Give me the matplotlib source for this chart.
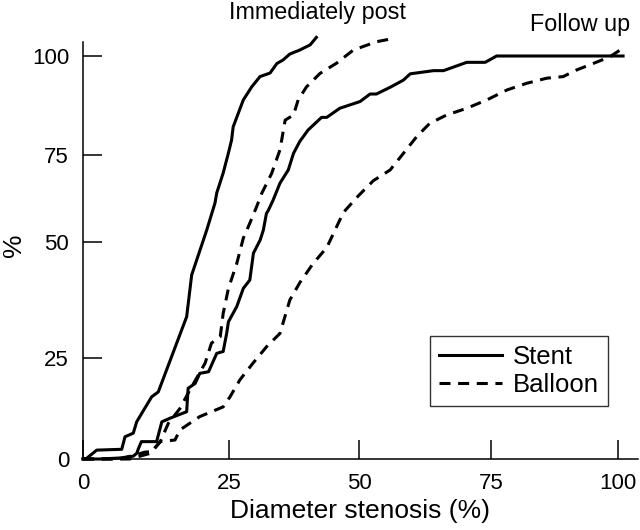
import numpy as np
import matplotlib
matplotlib.use("Agg")
import matplotlib.pyplot as plt

plt.rcParams['font.family'] = ['Liberation Sans', 'DejaVu Sans']

# ---- data (diameter stenosis %, cumulative %) ----
stent_post_x = [0, 0.63, 2.35, 6.63, 7.19, 8.61, 9.19, 11.76, 12.89, 17.75, 18.61, 21.18, 22.6, 22.9, 24.0,
                24.9, 25.5, 25.8, 27.75, 29.36, 30.96, 32.9, 34.2, 35.4, 36.7, 38.6, 40.6, 41.8]
stent_post_y = [0, 0.17, 2.2, 2.4, 5.5, 6.4, 9.2, 15.4, 16.6, 33.9, 42.9, 53.4, 61.2, 64.1, 69.8,
                75.5, 78.8, 82.1, 88.9, 92.2, 94.8, 95.7, 98.1, 99.0, 100.5, 101.5, 102.8, 104.7]

balloon_post_x = [0, 6.33, 8.9, 10.6, 11.8, 13.2, 14.6, 16.6, 18.3, 20.9, 22.0, 23.5, 24.0, 24.9, 26.5,
                  27.75, 29.0, 30.3, 31.3, 33.2, 34.8, 35.8, 37.4, 38.3, 39.9, 42.5, 45.7, 48.9, 53.3, 55.6]
balloon_post_y = [0, 0, 1.0, 1.7, 1.8, 4.2, 8.8, 12.5, 17.1, 23.7, 28.2, 29.6, 34.6, 40.0, 45.4,
                  51.1, 55.4, 60.1, 64.0, 69.7, 76.3, 83.8, 85.1, 88.9, 92.2, 95.6, 98.2, 101.5, 103.6, 104.2]

stent_fu_x = [0, 2.9, 6.3, 8.6, 9.2, 9.5, 10.0, 12.6, 13.5, 14.9, 17.75, 18.0, 19.2, 20.0, 21.5, 22.9,
              24.0, 24.6, 24.9, 26.5, 27.75, 29.0, 29.7, 31.0, 31.6, 32.2, 32.6, 33.5, 34.8, 36.4, 37.4,
              38.6, 40.2, 42.8, 43.8, 46.3, 50.2, 52.1, 53.3, 55.9, 58.4, 59.7, 64.1, 66.0, 70.4, 73.9,
              76.1, 101.0]
stent_fu_y = [0, 0, 0.25, 0.7, 1.4, 2.6, 4.3, 4.3, 9.2, 10.1, 11.7, 17.5, 18.7, 21.2, 21.6, 26.0,
              26.4, 30.3, 32.8, 36.1, 40.0, 41.8, 47.6, 50.6, 53.4, 58.2, 59.2, 62.1, 66.9, 70.7, 75.4,
              78.4, 81.3, 84.5, 84.5, 86.8, 88.5, 90.4, 90.4, 92.1, 93.9, 95.5, 96.3, 96.3, 98.4, 98.4,
              100.0, 100.0]

balloon_fu_x = [0, 8.0, 11.5, 13.2, 15.75, 16.6, 20.0, 24.0, 25.2, 27.1, 29.6, 32.2, 34.8, 36.7, 38.65,
                41.2, 43.8, 47.0, 49.9, 52.7, 55.9, 58.4, 60.9, 63.4, 66.6, 70.4, 74.2, 78.1, 82.0, 86.0,
                89.2, 91.9, 95.1, 98.4, 100.4, 101.7]
balloon_fu_y = [0, 0, 1.4, 4.3, 4.7, 7.2, 10.5, 12.9, 15.4, 19.6, 23.7, 27.4, 30.3, 37.5, 41.3,
                45.4, 48.8, 58.5, 63.3, 67.6, 70.7, 75.4, 79.6, 83.0, 85.1, 86.8, 88.9, 91.4, 93.1, 94.4,
                94.8, 96.5, 98.1, 99.8, 101.5, 101.9]

tick_values = [0, 25, 50, 75, 100]
tick_labels = ['0', '25', '50', '75', '100']

# ---- non-uniform axis scales as printed in the original figure ----
x_scale_pos = [0, 146, 276, 408, 535]
y_scale_pos = [0, 101, 217, 304, 403]


def piecewise(v, src, dst):
    v = np.asarray(v, dtype=float)
    out = np.interp(v, src, dst)
    lo_slope = (dst[1] - dst[0]) / (src[1] - src[0])
    hi_slope = (dst[-1] - dst[-2]) / (src[-1] - src[-2])
    out = np.where(v < src[0], dst[0] + (v - src[0]) * lo_slope, out)
    out = np.where(v > src[-1], dst[-1] + (v - src[-1]) * hi_slope, out)
    return out


def xf(v):
    return piecewise(v, tick_values, x_scale_pos)


def xi(v):
    return piecewise(v, x_scale_pos, tick_values)


def yf(v):
    return piecewise(v, tick_values, y_scale_pos)


def yi(v):
    return piecewise(v, y_scale_pos, tick_values)


W, H = 640, 530
fig = plt.figure(figsize=(W / 100, H / 100), dpi=100)
ax_l, ax_r, ax_b, ax_t = 83, 638, 459, 42
ax = fig.add_axes([ax_l / W, (H - ax_b) / H, (ax_r - ax_l) / W, (ax_b - ax_t) / H])
ax.set_xscale('function', functions=(xf, xi))
ax.set_yscale('function', functions=(yf, yi))
ax.set_xlim(0, float(xi(ax_r - ax_l)))
ax.set_ylim(0, float(yi(ax_b - ax_t)))

lw = 2.2
dash = (0, (3.6, 2.5))
ax.plot(stent_post_x, stent_post_y, color='black', lw=lw, clip_on=False, label='Stent')
ax.plot(balloon_post_x, balloon_post_y, color='black', lw=lw, ls=dash, clip_on=False, label='Balloon')
ax.plot(stent_fu_x, stent_fu_y, color='black', lw=lw, clip_on=False)
ax.plot(balloon_fu_x, balloon_fu_y, color='black', lw=lw, ls=dash, clip_on=False)

ax.set_xticks(tick_values)
ax.set_xticklabels(tick_labels)
ax.set_yticks(tick_values)
ax.set_yticklabels(tick_labels)
ax.minorticks_off()
ax.tick_params(direction='in', length=14, width=1.1, labelsize=16, colors='black')
ax.tick_params(axis='x', pad=10)
ax.tick_params(axis='y', pad=10)
for s in ['top', 'right']:
    ax.spines[s].set_visible(False)
for s in ['left', 'bottom']:
    ax.spines[s].set_linewidth(1.1)

ax.set_xlabel('Diameter stenosis (%)', fontsize=19, labelpad=4)
fig.text(14 / W, 1 - 245 / H, '%', fontsize=19, rotation=90, ha='center', va='center')

fig.text(317 / W, 1 - 12 / H, 'Immediately post', fontsize=16.8, ha='center', va='center')
fig.text(580 / W, 1 - 25 / H, 'Follow up', fontsize=16.8, ha='center', va='center')

leg = ax.legend(loc='upper left', bbox_to_anchor=(430 / W, 1 - 336 / H), bbox_transform=fig.transFigure,
                fontsize=18.5, frameon=True, fancybox=False, handlelength=2.45, handletextpad=0.42,
                borderpad=0.35, labelspacing=0.15, borderaxespad=0)
leg.get_frame().set_edgecolor('black')
leg.get_frame().set_linewidth(1.0)

fig.savefig('out.png', dpi=100)
